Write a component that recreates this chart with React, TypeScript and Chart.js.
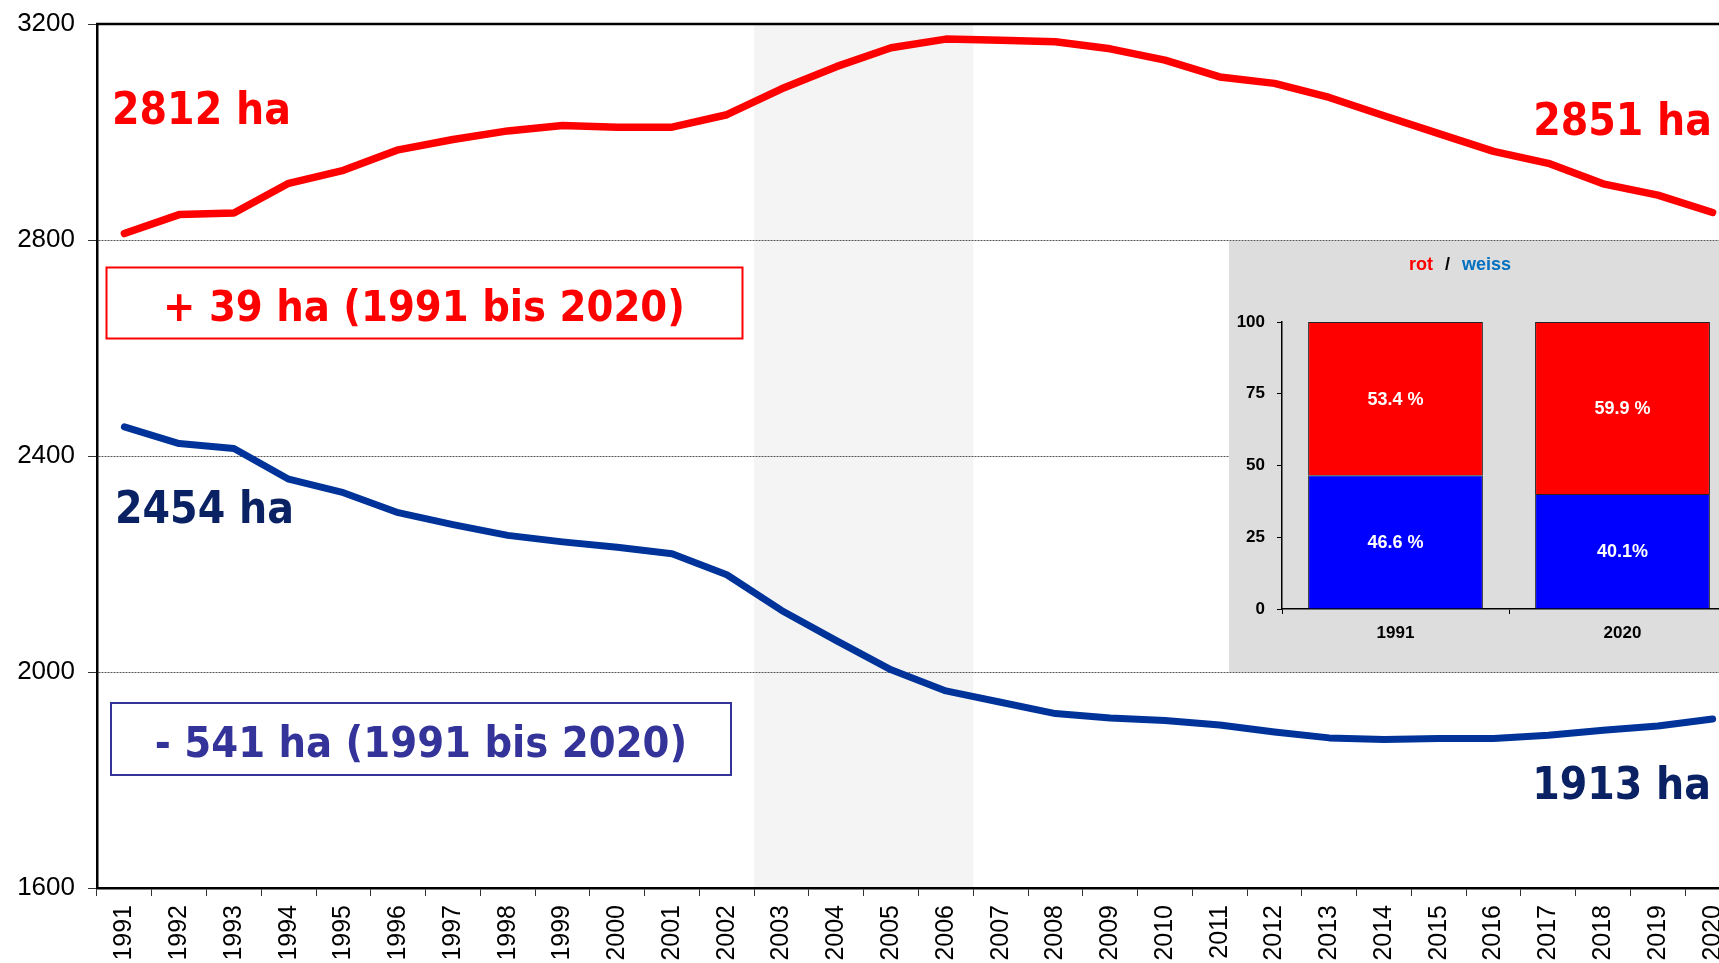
import React, { useEffect, useRef } from 'react';
import { Chart, registerables } from 'chart.js';

Chart.register(...registerables);

// ---------- data ----------
const years = [
  '1991', '1992', '1993', '1994', '1995', '1996', '1997', '1998', '1999', '2000',
  '2001', '2002', '2003', '2004', '2005', '2006', '2007', '2008', '2009', '2010',
  '2011', '2012', '2013', '2014', '2015', '2016', '2017', '2018', '2019', '2020',
];
const rotValues = [
  2812, 2847, 2850, 2905, 2929, 2967, 2986, 3002, 3012, 3009,
  3009, 3032, 3080, 3121, 3156, 3172, 3170, 3167, 3154, 3133,
  3102, 3090, 3064, 3030, 2997, 2964, 2942, 2904, 2883, 2851,
];
const weissValues = [
  2454, 2423, 2414, 2357, 2332, 2295, 2273, 2253, 2241, 2231,
  2219, 2180, 2114, 2058, 2004, 1965, 1944, 1923, 1915, 1910,
  1902, 1889, 1878, 1875, 1877, 1877, 1883, 1892, 1900, 1913,
];
const yTicks = [1600, 2000, 2400, 2800, 3200];
const highlightYears = ['2003', '2006'];

const shareYears = ['1991', '2020'];
const shareWeiss = [46.6, 40.1];
const shareRot = [53.4, 59.9];
const shareWeissLabels = ['46.6 %', '40.1%'];
const shareRotLabels = ['53.4 %', '59.9 %'];
const shareTicks = [0, 25, 50, 75, 100];

const startLabelRot = '2812 ha';
const endLabelRot = '2851 ha';
const startLabelWeiss = '2454 ha';
const endLabelWeiss = '1913 ha';
const changeRot = '+ 39 ha (1991 bis 2020)';
const changeWeiss = '- 541 ha (1991 bis 2020)';

// ---------- styles ----------
const RED = '#FF0000';
const LINE_BLUE = '#003399';
const NAVY = '#0A2263';
const BOX_BLUE = '#333399';
const ANNO_FONT = "bold 44px 'DejaVu Sans Condensed', 'DejaVu Sans', sans-serif";
const BOX_FONT = "bold 43px 'DejaVu Sans Condensed', 'DejaVu Sans', sans-serif";
const ARIAL = "'Liberation Sans', Arial, sans-serif";

const bandPlugin = {
  id: 'band',
  beforeDraw(chart: any) {
    const { ctx, chartArea } = chart;
    const x = chart.scales.x;
    const i0 = years.indexOf(highlightYears[0]);
    const i1 = years.indexOf(highlightYears[1]);
    const half = (x.getPixelForValue(1) - x.getPixelForValue(0)) / 2;
    const left = x.getPixelForValue(i0) - half;
    const right = x.getPixelForValue(i1) + half;
    ctx.save();
    ctx.fillStyle = '#F4F4F4';
    ctx.fillRect(left, chartArea.top, right - left, chartArea.bottom - chartArea.top);
    ctx.restore();
  },
};

const framePlugin = {
  id: 'frame',
  afterDraw(chart: any) {
    const { ctx, chartArea } = chart;
    ctx.save();
    ctx.strokeStyle = '#000';
    ctx.lineWidth = 2.5;
    ctx.beginPath();
    ctx.moveTo(chartArea.left - 1, chartArea.top);
    ctx.lineTo(chartArea.right, chartArea.top);
    ctx.stroke();
    ctx.restore();
  },
};

const annotationPlugin = {
  id: 'annos',
  afterDraw(chart: any) {
    const { ctx } = chart;
    ctx.save();
    ctx.textBaseline = 'alphabetic';
    ctx.font = ANNO_FONT;
    ctx.fillStyle = RED;
    ctx.textAlign = 'left';
    ctx.fillText(startLabelRot, 112, 124);
    ctx.textAlign = 'right';
    ctx.fillText(endLabelRot, 1712, 135);
    ctx.fillStyle = NAVY;
    ctx.textAlign = 'left';
    ctx.fillText(startLabelWeiss, 115, 523);
    ctx.textAlign = 'right';
    ctx.fillText(endLabelWeiss, 1711, 799);

    // boxes
    ctx.lineWidth = 2;
    ctx.strokeStyle = RED;
    ctx.strokeRect(106.5, 267.5, 636, 71);
    ctx.strokeStyle = BOX_BLUE;
    ctx.strokeRect(111, 703, 620, 72);
    ctx.font = BOX_FONT;
    ctx.textAlign = 'center';
    ctx.fillStyle = RED;
    ctx.fillText(changeRot, 424, 321);
    ctx.fillStyle = BOX_BLUE;
    ctx.fillText(changeWeiss, 421, 757);
    ctx.restore();
  },
};

const insetBgPlugin = {
  id: 'insetBg',
  beforeDraw(chart: any) {
    const { ctx, width, height } = chart;
    ctx.save();
    ctx.fillStyle = '#DDDDDD';
    ctx.fillRect(0, 0, width, height);
    // title "rot / weiss"
    ctx.font = `bold 18px ${ARIAL}`;
    ctx.textBaseline = 'alphabetic';
    ctx.textAlign = 'left';
    ctx.fillStyle = RED;
    ctx.fillText('rot', 180, 29);
    ctx.fillStyle = '#000';
    ctx.fillText('/', 216, 29);
    ctx.fillStyle = '#0070C0';
    ctx.fillText('weiss', 233, 29);
    ctx.restore();
  },
};

const insetLabelsPlugin = {
  id: 'insetLabels',
  afterDatasetsDraw(chart: any) {
    const { ctx } = chart;
    ctx.save();
    ctx.font = `bold 18px ${ARIAL}`;
    ctx.fillStyle = '#FFFFFF';
    ctx.textAlign = 'center';
    ctx.textBaseline = 'middle';
    const lists = [shareWeissLabels, shareRotLabels];
    chart.data.datasets.forEach((_: any, di: number) => {
      const meta = chart.getDatasetMeta(di);
      meta.data.forEach((bar: any, i: number) => {
        const yMid = (bar.y + bar.base) / 2;
        ctx.fillText(lists[di][i], bar.x, yMid + 1);
      });
    });
    ctx.restore();
  },
};

export default function App() {
  const mainRef = useRef<HTMLCanvasElement | null>(null);
  const insetRef = useRef<HTMLCanvasElement | null>(null);

  useEffect(() => {
    if (!mainRef.current || !insetRef.current) return;
    const main = new Chart(mainRef.current, {
      type: 'line',
      data: {
        labels: years,
        datasets: [
          {
            label: 'rot',
            data: rotValues,
            borderColor: RED,
            borderWidth: 7.5,
            borderCapStyle: 'round',
            borderJoinStyle: 'round',
            pointRadius: 0,
            tension: 0,
            fill: false,
          },
          {
            label: 'weiss',
            data: weissValues,
            borderColor: LINE_BLUE,
            borderWidth: 7,
            borderCapStyle: 'round',
            borderJoinStyle: 'round',
            pointRadius: 0,
            tension: 0,
            fill: false,
          },
        ],
      },
      options: {
        responsive: false,
        animation: false,
        devicePixelRatio: 1,
        layout: { padding: { top: 24, right: 20, left: 0, bottom: 0 } },
        plugins: { legend: { display: false }, tooltip: { enabled: false } },
        scales: {
          x: {
            type: 'category',
            offset: true,
            grid: {
              offset: true,
              drawOnChartArea: false,
              drawTicks: true,
              tickLength: 8,
              tickColor: '#333',
              tickWidth: 1,
            },
            border: { display: true, color: '#000', width: 2.5 },
            ticks: {
              autoSkip: false,
              minRotation: 90,
              maxRotation: 90,
              padding: 9,
              color: '#000',
              font: { family: ARIAL, size: 25 },
            },
            afterFit: (s: any) => {
              s.height = 112;
              s.paddingLeft = 0;
              s.paddingRight = 0;
            },
          },
          y: {
            min: yTicks[0],
            max: yTicks[yTicks.length - 1],
            afterBuildTicks: (s: any) => {
              s.ticks = yTicks.map((v) => ({ value: v }));
            },
            grid: {
              drawOnChartArea: true,
              tickLength: 9,
              tickColor: '#333',
              tickWidth: 1,
              lineWidth: 1,
              color: (c: any) =>
                c.tick && (c.tick.value === yTicks[0] || c.tick.value === yTicks[yTicks.length - 1])
                  ? 'rgba(0,0,0,0)'
                  : '#555',
            },
            border: { display: true, color: '#000', width: 2.5, dash: [2, 1] },
            ticks: {
              padding: 13,
              color: '#000',
              font: { family: ARIAL, size: 26 },
              callback: (v: any) => String(v),
            },
            afterFit: (s: any) => {
              s.width = 97;
              s.paddingTop = 0;
              s.paddingBottom = 0;
            },
          },
        },
      },
      plugins: [bandPlugin, framePlugin, annotationPlugin],
    } as any);

    const inset = new Chart(insetRef.current, {
      type: 'bar',
      data: {
        labels: shareYears,
        datasets: [
          {
            label: 'weiss',
            data: shareWeiss,
            backgroundColor: '#0000FF',
            borderColor: '#222',
            borderWidth: 1,
            barPercentage: 0.77,
            categoryPercentage: 1,
          },
          {
            label: 'rot',
            data: shareRot,
            backgroundColor: '#FF0000',
            borderColor: '#222',
            borderWidth: 1,
            barPercentage: 0.77,
            categoryPercentage: 1,
          },
        ],
      },
      options: {
        responsive: false,
        animation: false,
        devicePixelRatio: 1,
        layout: { padding: { top: 81, right: 13, left: 0, bottom: 0 } },
        plugins: { legend: { display: false }, tooltip: { enabled: false } },
        scales: {
          x: {
            stacked: true,
            grid: {
              offset: true,
              drawOnChartArea: false,
              tickLength: 5,
              tickColor: '#000',
            },
            border: { display: true, color: '#000', width: 1.5 },
            ticks: {
              padding: 9,
              color: '#000',
              font: { family: ARIAL, size: 17, weight: 'bold' },
            },
            afterFit: (s: any) => {
              s.height = 63;
              s.paddingLeft = 0;
              s.paddingRight = 0;
            },
          },
          y: {
            stacked: true,
            min: shareTicks[0],
            max: shareTicks[shareTicks.length - 1],
            afterBuildTicks: (s: any) => {
              s.ticks = shareTicks.map((v) => ({ value: v }));
            },
            grid: {
              drawOnChartArea: false,
              tickLength: 5,
              tickColor: '#000',
            },
            border: { display: true, color: '#000', width: 1.5 },
            ticks: {
              padding: 12,
              color: '#000',
              font: { family: ARIAL, size: 17, weight: 'bold' },
            },
            afterFit: (s: any) => {
              s.width = 53;
              s.paddingTop = 0;
              s.paddingBottom = 0;
            },
          },
        },
      },
      plugins: [insetBgPlugin, insetLabelsPlugin],
    } as any);

    return () => {
      main.destroy();
      inset.destroy();
    };
  }, []);

  return (
    <div
      style={{
        position: 'fixed',
        left: 0,
        top: 0,
        width: 1719,
        height: 963,
        overflow: 'hidden',
        background: '#fff',
      }}
    >
      <canvas
        ref={mainRef}
        width={1760}
        height={1000}
        style={{ position: 'absolute', left: 0, top: 0, width: 1760, height: 1000 }}
      />
      <canvas
        ref={insetRef}
        width={520}
        height={431}
        style={{ position: 'absolute', left: 1229, top: 241, width: 520, height: 431 }}
      />
    </div>
  );
}
